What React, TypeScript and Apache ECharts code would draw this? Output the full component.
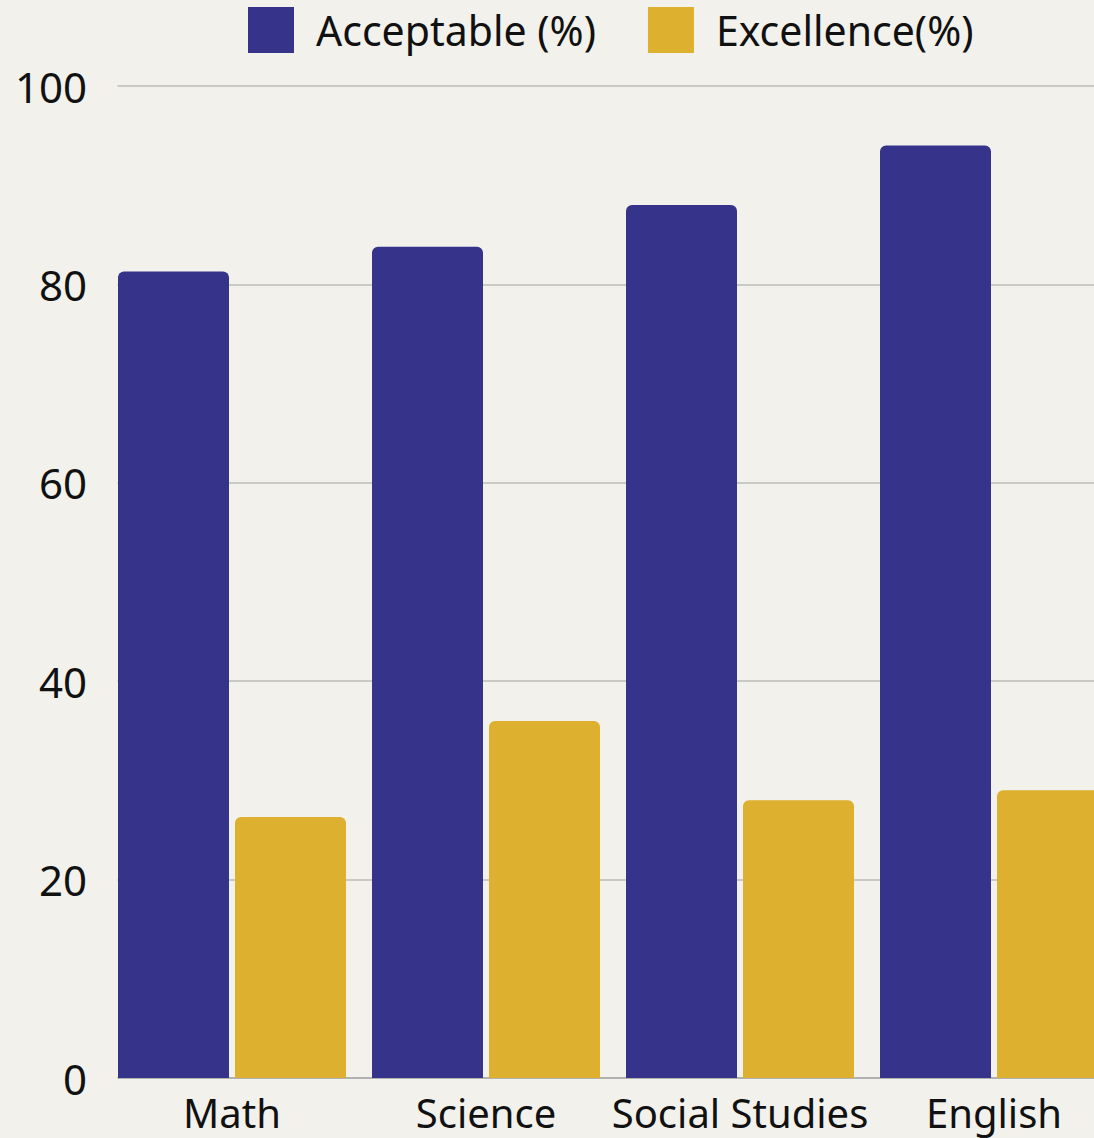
import React, { useEffect, useRef } from "react";
import * as echarts from "echarts";

const subjects = ["Math", "Science", "Social Studies", "English"];
const acceptable = [81.3, 83.8, 88.0, 94.0];
const excellence = [26.3, 36.0, 28.0, 29.0];
const seriesNames = ["Acceptable (%)", "Excellence(%)"];

const BG = "#f2f1ec";
const BLUE = "#36338b";
const GOLD = "#deb02f";
const FONT = "'Noto Sans', sans-serif";

export default function App() {
  const ref = useRef<HTMLDivElement>(null);

  useEffect(() => {
    document.body.style.margin = "0";
    document.body.style.overflow = "hidden";
    const chart = echarts.init(ref.current!, null, { renderer: "svg" });
    chart.setOption({
      animation: false,
      backgroundColor: BG,
      textStyle: { fontFamily: FONT },
      legend: {
        left: 248,
        top: 7,
        padding: 0,
        itemWidth: 46,
        itemHeight: 46,
        itemGap: 52,
        icon: "rect",
        textStyle: {
          fontSize: 41,
          color: "#111",
          fontFamily: FONT,
          padding: [0, 0, 6, 17],
        },
        data: seriesNames,
      },
      grid: {
        left: 105,
        top: 86,
        width: 1016,
        height: 992,
        outerBoundsMode: "none",
        containLabel: false,
      },
      xAxis: {
        type: "category",
        data: subjects,
        axisTick: { show: false },
        axisLine: { lineStyle: { color: "#a9a9a9", width: 1.5 } },
        axisLabel: {
          interval: 0,
          fontSize: 40,
          color: "#111",
          margin: 14,
          fontFamily: FONT,
        },
      },
      yAxis: {
        type: "value",
        min: 0,
        max: 100,
        interval: 20,
        axisLabel: { fontSize: 42, color: "#111", margin: 18, fontFamily: FONT },
        splitLine: { lineStyle: { color: "#bdbcb8", width: 1.5 } },
      },
      graphic: [
        {
          type: "rect",
          z: 100,
          shape: { x: 96, y: 70, width: 21.5, height: 1020 },
          style: { fill: BG },
        },
      ],
      series: [
        {
          name: seriesNames[0],
          type: "bar",
          data: acceptable,
          barWidth: 111,
          barGap: "5.4%",
          itemStyle: { color: BLUE, borderRadius: [6, 6, 0, 0] },
        },
        {
          name: seriesNames[1],
          type: "bar",
          data: excellence,
          barWidth: 111,
          barGap: "5.4%",
          itemStyle: { color: GOLD, borderRadius: [6, 6, 0, 0] },
        },
      ],
    });
    return () => chart.dispose();
  }, []);

  return <div ref={ref} style={{ width: 1140, height: 1138 }} />;
}
